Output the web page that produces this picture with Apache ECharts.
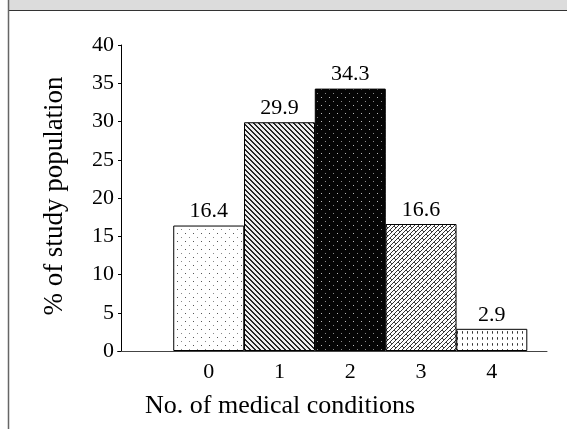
<!DOCTYPE html>
<html>
<head>
<meta charset="utf-8">
<script src="https://cdn.jsdelivr.net/npm/echarts@6/dist/echarts.min.js"></script>
<style>
  html, body { margin: 0; padding: 0; background: #fff; }
  #chart { width: 567px; height: 429px; }
</style>
</head>
<body>
<div id="chart"></div>
<script>
// data
var conditions = [0, 1, 2, 3, 4];
var percents = [16.4, 29.9, 34.3, 16.6, 2.9];
var yTicks = [0, 5, 10, 15, 20, 25, 30, 35, 40];

var FONT = '"Liberation Serif", "DejaVu Serif", serif';

// little canvas tiles for the bar fills
function tile(w, h, draw) {
    var c = document.createElement('canvas');
    c.width = w; c.height = h;
    var ctx = c.getContext('2d');
    draw(ctx, w, h);
    return { image: c, repeat: 'repeat' };
}
function px(ctx, x, y, col) { ctx.fillStyle = col; ctx.fillRect(x, y, 1, 1); }

var fills = [
    // sparse dots
    tile(8, 8, function (ctx, w, h) {
        ctx.fillStyle = '#fff'; ctx.fillRect(0, 0, w, h);
        px(ctx, 1, 1, '#555'); px(ctx, 5, 5, '#888');
    }),
    // dense diagonal lines
    tile(5, 5, function (ctx, w, h) {
        for (var y = 0; y < h; y++)
            for (var x = 0; x < w; x++)
                px(ctx, x, y, ((x - y + 10) % 5) < 2 ? '#262626' : '#eeeeee');
    }),
    // black with light dots
    tile(8, 8, function (ctx, w, h) {
        ctx.fillStyle = '#050505'; ctx.fillRect(0, 0, w, h);
        px(ctx, 1, 1, '#bbb'); px(ctx, 5, 5, '#888');
    }),
    // diagonal brick
    tile(8, 8, function (ctx, w, h) {
        ctx.fillStyle = '#fff'; ctx.fillRect(0, 0, w, h);
        for (var i = 0; i < 8; i++) {
            px(ctx, i, 7 - i, '#333');
            px(ctx, (i + 4) % 8, 7 - i, '#333');
        }
        px(ctx, 2, 2, '#444'); px(ctx, 3, 3, '#444');
        px(ctx, 6, 6, '#444'); px(ctx, 7, 7, '#444');
    }),
    // short vertical dashes
    tile(5, 6, function (ctx, w, h) {
        ctx.fillStyle = '#fff'; ctx.fillRect(0, 0, w, h);
        px(ctx, 2, 1, '#555'); px(ctx, 2, 2, '#333'); px(ctx, 2, 3, '#777');
    })
];

var barData = conditions.map(function (c, i) {
    return {
        value: [c, percents[i]],
        itemStyle: { color: fills[i] }
    };
});

var chart = echarts.init(document.getElementById('chart'));

chart.setOption({
    animation: false,
    backgroundColor: '#fff',
    grid: { left: 121, right: 20, top: 45, bottom: 78 },
    xAxis: {
        type: 'value',
        min: -1.24,
        max: 4.78,
        splitLine: { show: false },
        axisLine: { show: true, onZero: false, lineStyle: { color: '#444', width: 1 } },
        axisTick: { show: false },
        axisLabel: {
            customValues: conditions,
            margin: 10,
            color: '#000',
            fontFamily: FONT,
            fontSize: 22
        }
    },
    yAxis: {
        type: 'value',
        min: 0,
        max: 40,
        interval: 5,
        splitLine: { show: false },
        axisLine: { show: true, onZero: false, lineStyle: { color: '#000', width: 1 } },
        axisTick: { show: true, length: 3, lineStyle: { color: '#000' } },
        axisLabel: {
            margin: 7,
            color: '#000',
            fontFamily: FONT,
            fontSize: 22
        }
    },
    graphic: [
        { type: 'rect', shape: { x: 9, y: 0, width: 558, height: 10 }, style: { fill: '#dcdcdc' } },
        { type: 'line', shape: { x1: 9, y1: 10.5, x2: 567, y2: 10.5 }, style: { stroke: '#333', lineWidth: 1 } },
        { type: 'line', shape: { x1: 8.5, y1: 0, x2: 8.5, y2: 429 }, style: { stroke: '#666', lineWidth: 1.5 } },
        { type: 'line', shape: { x1: 117, y1: 351.5, x2: 121, y2: 351.5 }, style: { stroke: '#444', lineWidth: 1 } },
        { type: 'text', x: 78, y: 2, style: { text: 'tions', fill: '#222', font: '20px ' + FONT, textVerticalAlign: 'bottom' } },
        {
            type: 'text', x: 55, y: 196, rotation: Math.PI / 2,
            style: {
                text: '% of study population', fill: '#000',
                font: '27px ' + FONT, textAlign: 'center', textVerticalAlign: 'middle'
            }
        },
        {
            type: 'text', x: 280, y: 406,
            style: {
                text: 'No. of medical conditions', fill: '#000',
                font: '26px ' + FONT, textAlign: 'center', textVerticalAlign: 'middle'
            }
        }
    ],
    series: [{
        type: 'bar',
        barWidth: 71,
        data: barData,
        itemStyle: { borderColor: '#000', borderWidth: 1 },
        label: {
            show: true,
            position: 'top',
            distance: 3,
            color: '#000',
            fontFamily: FONT,
            fontSize: 22
        }
    }]
});
</script>
</body>
</html>
